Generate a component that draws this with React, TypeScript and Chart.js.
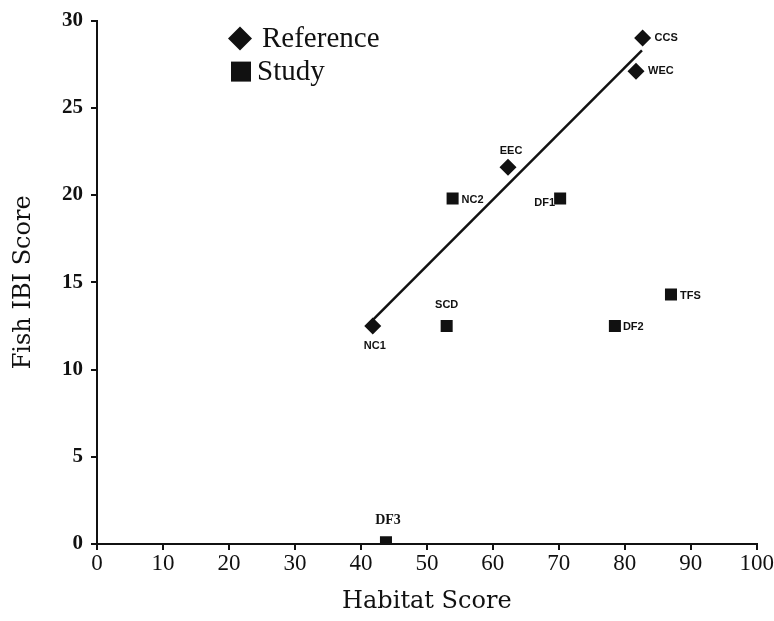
import React, { useEffect, useRef } from "react";
import { Chart, registerables } from "chart.js";

Chart.register(...registerables);

const referenceNames = ["NC1", "EEC", "CCS", "WEC"];
const referenceX = [41.8, 62.3, 82.7, 81.7];
const referenceY = [12.5, 21.6, 29.0, 27.1];

const studyNames = ["NC2", "DF1", "SCD", "DF2", "TFS", "DF3"];
const studyX = [53.9, 70.2, 53.0, 78.5, 87.0, 43.8];
const studyY = [19.8, 19.8, 12.5, 12.5, 14.3, 0.1];

const fitX = [41.7, 82.6];
const fitY = [12.8, 28.3];

const xTicks = [0, 10, 20, 30, 40, 50, 60, 70, 80, 90, 100];
const yTicks = [0, 5, 10, 15, 20, 25, 30];

// label placement: [dx, dy, align]
const refLabelPos: Record<string, [number, number, CanvasTextAlign]> = {
  NC1: [2, 20, "center"],
  EEC: [3, -16, "center"],
  CCS: [12, 0, "left"],
  WEC: [12, 0, "left"],
};
const studyLabelPos: Record<string, [number, number, CanvasTextAlign]> = {
  NC2: [9, 1, "left"],
  DF1: [-5, 4, "right"],
  SCD: [0, -21, "center"],
  DF2: [8, 1, "left"],
  TFS: [9, 1, "left"],
  DF3: [2, -22, "center"],
};

const INK = "#111111";

const labelsPlugin = {
  id: "pointLabels",
  afterDatasetsDraw(chart: any) {
    const { ctx, scales } = chart;
    const xs = scales.x;
    const ys = scales.y;
    ctx.save();
    ctx.fillStyle = INK;
    ctx.textBaseline = "middle";
    const draw = (names: string[], X: number[], Y: number[], pos: any) => {
      names.forEach((n, i) => {
        const [dx, dy, al] = pos[n];
        ctx.textAlign = al;
        ctx.font = n === "DF3" ? "bold 14px 'Liberation Serif'" : "bold 11px 'Liberation Sans'";
        ctx.fillText(n, xs.getPixelForValue(X[i]) + dx, ys.getPixelForValue(Y[i]) + dy);
      });
    };
    draw(referenceNames, referenceX, referenceY, refLabelPos);
    draw(studyNames, studyX, studyY, studyLabelPos);

    // legend
    const lx = chart.chartArea.left + 143;
    const ly1 = chart.chartArea.top + 18;
    const ly2 = chart.chartArea.top + 51;
    ctx.fillStyle = INK;
    ctx.beginPath();
    ctx.moveTo(lx, ly1 - 12);
    ctx.lineTo(lx + 12, ly1);
    ctx.lineTo(lx, ly1 + 12);
    ctx.lineTo(lx - 12, ly1);
    ctx.closePath();
    ctx.fill();
    ctx.fillRect(lx - 9, ly2 - 10, 20, 20);
    ctx.font = "29px 'Liberation Serif'";
    ctx.textAlign = "left";
    ctx.fillText("Reference", lx + 22, ly1 + 1);
    ctx.fillText("Study", lx + 17, ly2 + 1);
    ctx.restore();
  },
};

export default function App() {
  const ref = useRef<HTMLCanvasElement | null>(null);
  useEffect(() => {
    document.body.style.margin = "0";
    if (!ref.current) return;
    const chart = new Chart(ref.current, {
      type: "scatter",
      data: {
        datasets: [
          {
            label: "Fit",
            data: fitX.map((x, i) => ({ x, y: fitY[i] })),
            showLine: true,
            borderColor: INK,
            borderWidth: 2.5,
            pointRadius: 0,
            fill: false,
          },
          {
            label: "Reference",
            data: referenceX.map((x, i) => ({ x, y: referenceY[i] })),
            pointStyle: "rectRot",
            pointRadius: 8.5,
            backgroundColor: INK,
            borderColor: INK,
            borderWidth: 0,
          },
          {
            label: "Study",
            data: studyX.map((x, i) => ({ x, y: studyY[i] })),
            pointStyle: "rect",
            pointRadius: 8.5,
            backgroundColor: INK,
            borderColor: INK,
            borderWidth: 0,
          },
        ],
      },
      options: {
        animation: false,
        responsive: false,
        layout: { padding: { left: 0, right: 17, top: 16, bottom: 0 } },
        plugins: { legend: { display: false }, tooltip: { enabled: false } },
        scales: {
          x: {
            type: "linear",
            min: 0,
            max: 100,
            afterBuildTicks: (s: any) => {
              s.ticks = xTicks.map((v) => ({ value: v }));
            },
            afterFit: (s: any) => {
              s.height = 77;
            },
            grid: { display: true, drawOnChartArea: false, drawTicks: true, tickLength: 6, color: INK, lineWidth: 2 },
            border: { display: true, color: INK, width: 2 },
            ticks: { color: INK, font: { family: "'Liberation Serif'", size: 23 }, padding: 0, maxRotation: 0 },
            title: {
              display: true,
              text: "Habitat Score",
              color: INK,
              font: { family: "'DejaVu Serif'", size: 24 },
              padding: { top: 0, bottom: 5 },
            },
          },
          y: {
            type: "linear",
            min: 0,
            max: 30,
            afterBuildTicks: (s: any) => {
              s.ticks = yTicks.map((v) => ({ value: v }));
            },
            afterFit: (s: any) => {
              s.width = 97;
            },
            grid: { display: true, drawOnChartArea: false, drawTicks: true, tickLength: 6, color: INK, lineWidth: 2 },
            border: { display: true, color: INK, width: 2 },
            ticks: { color: INK, font: { family: "'Liberation Serif'", size: 21, weight: "bold" }, padding: 8 },
            title: {
              display: true,
              text: "Fish IBI Score",
              color: INK,
              font: { family: "'DejaVu Serif'", size: 24 },
              padding: { top: 9, bottom: 0 },
            },
          },
        },
      },
      plugins: [labelsPlugin],
    } as any);
    return () => chart.destroy();
  }, []);
  return <canvas ref={ref} width={774} height={621} style={{ display: "block" }} />;
}
